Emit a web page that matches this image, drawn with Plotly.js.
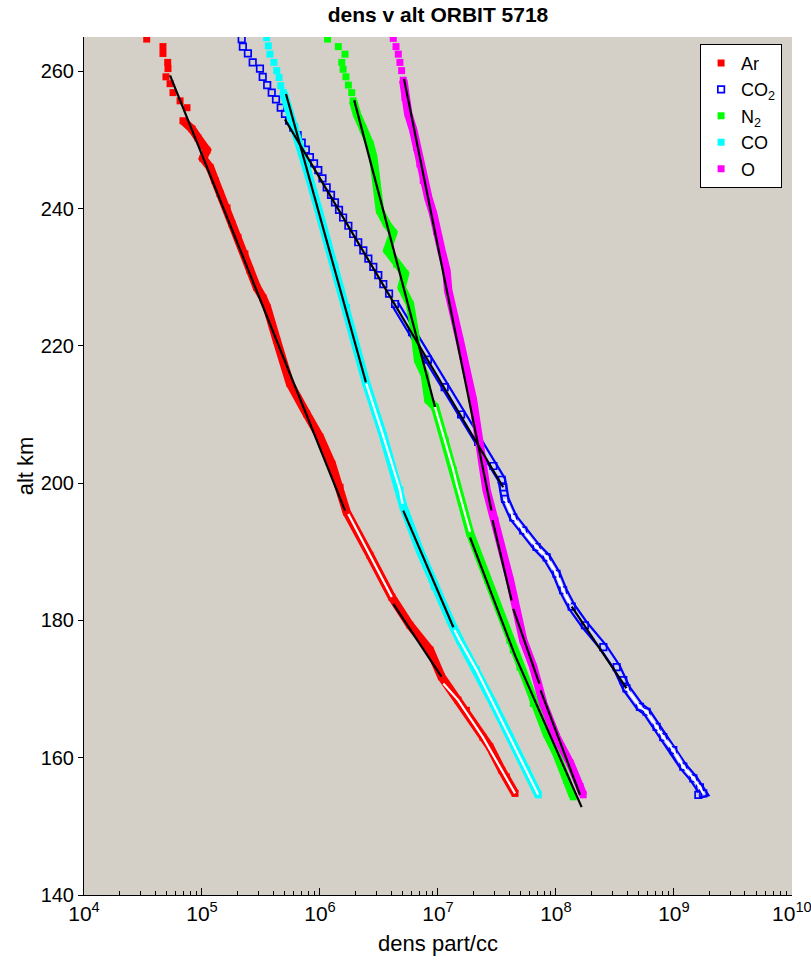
<!DOCTYPE html>
<html>
<head>
<meta charset="utf-8">
<script src="https://cdn.plot.ly/plotly-3.0.1.min.js"></script>
<style>html,body{margin:0;padding:0;background:#fff;}#chart{width:811px;height:964px;}</style>
</head>
<body>
<div id="chart"></div>
<script>
// ---- measured data (altitude km, density part/cc) ----
const arAlt  = [264.7,263.6,262.6,261.3,260.4,259.2,258.2,256.9,255.7,254.7,252.8,251.6,250.3,248.5,247.3,246.0,244.1,242.2,240.1,237.8,235.8,233.4,231.0,228.5,227.0,225.6,220.8,214.5,210.1,206.7,202.8,199.4,195.8,189.5,183.4,179.3,175.7,171.8,168.4,166.9,163.0,161.6,158.2,157.2,154.8];
const arDens = [3.40e4,4.67e4,4.67e4,5.12e4,5.15e4,4.95e4,5.36e4,5.68e4,6.52e4,7.46e4,6.90e4,8.22e4,9.25e4,1.10e5,1.02e5,1.17e5,1.29e5,1.42e5,1.63e5,1.79e5,2.02e5,2.31e5,2.55e5,2.92e5,3.29e5,3.56e5,4.30e5,5.57e5,7.71e5,1.00e6,1.26e6,1.48e6,1.68e6,2.65e6,4.06e6,5.79e6,8.55e6,1.07e7,1.48e7,1.74e7,2.40e7,2.75e7,3.47e7,3.80e7,4.50e7];

const co2Alt  = [264.7,263.6,262.6,261.3,260.4,259.2,258.0,256.9,255.9,254.7,253.8,252.8,251.8,250.7,249.6,248.6,247.5,246.6,245.6,244.4,243.1,242.0,240.9,239.8,238.7,237.5,236.3,235.1,233.9,232.7,231.5,230.3,229.0,227.6,226.1,222.0,218.0,214.0,210.0,206.0,202.5,200.5,199.4,197.7,195.0,193.1,190.7,189.2,186.8,184.4,182.0,179.3,176.1,173.2,171.3,170.1,167.4,166.7,164.5,163.0,161.1,158.7,157.0,155.7,154.8,154.6];
const co2Dens = [2.17e5,2.22e5,2.45e5,2.69e5,3.10e5,3.27e5,3.57e5,3.90e5,4.24e5,4.65e5,5.05e5,5.47e5,5.94e5,6.46e5,7.00e5,7.59e5,8.22e5,8.91e5,9.68e5,1.05e6,1.14e6,1.24e6,1.34e6,1.45e6,1.57e6,1.74e6,1.91e6,2.11e6,2.33e6,2.57e6,2.83e6,3.12e6,3.44e6,3.85e6,4.33e6,6.03e6,8.22e6,1.14e7,1.57e7,2.19e7,2.95e7,3.47e7,3.57e7,3.70e7,4.35e7,5.28e7,6.85e7,8.34e7,1.01e8,1.15e8,1.36e8,1.76e8,2.52e8,3.27e8,3.72e8,3.96e8,5.15e8,5.86e8,7.13e8,8.11e8,9.86e8,1.20e9,1.46e9,1.66e9,1.77e9,1.61e9];

const n2Alt  = [264.7,263.6,262.5,261.3,260.3,259.2,258.0,256.9,255.7,253.8,251.6,249.4,247.5,245.6,243.6,241.6,239.7,237.8,236.5,233.9,231.9,230.5,228.5,226.1,221.8,217.9,215.7,212.1,211.1,206.2,201.9,199.9,192.7,185.9,177.1,175.7,173.2,167.9,163.5,160.6,156.7,154.3];
const n2Dens = [1.16e6,1.43e6,1.63e6,1.53e6,1.57e6,1.66e6,1.74e6,1.86e6,1.91e6,2.05e6,2.33e6,2.65e6,2.83e6,2.92e6,3.02e6,3.12e6,3.22e6,3.67e6,4.18e6,3.72e6,4.46e6,5.25e6,4.92e6,5.79e6,6.38e6,6.78e6,7.76e6,8.28e6,9.44e6,1.15e7,1.35e7,1.44e7,1.87e7,2.63e7,4.07e7,4.35e7,4.95e7,6.43e7,8.34e7,1.01e8,1.23e8,1.40e8];

const coAlt  = [264.9,263.7,262.5,261.3,260.1,259.1,257.9,256.9,254.7,251.8,248.4,245.0,241.6,238.2,234.8,231.5,228.1,225.6,221.5,214.7,207.0,199.0,196.6,190.2,185.0,180.0,177.1,172.8,167.9,163.0,158.2,154.6];
const coDens = [3.53e5,3.65e5,3.77e5,4.07e5,4.30e5,4.50e5,4.65e5,4.89e5,5.38e5,6.14e5,6.98e5,7.96e5,9.08e5,1.03e6,1.17e6,1.34e6,1.50e6,1.68e6,1.91e6,2.45e6,3.42e6,4.76e6,5.08e6,7.00e6,9.29e6,1.27e7,1.53e7,2.12e7,2.94e7,4.07e7,5.64e7,7.08e7];

const oAlt  = [264.8,263.6,262.5,261.3,260.1,258.7,256.2,253.8,251.4,248.9,246.5,244.1,241.6,239.2,236.7,233.9,231.0,228.1,220.8,212.1,199.0,194.6,185.9,177.1,173.2,167.9,163.0,159.2,155.8,154.6];
const oDens = [4.18e6,4.41e6,4.61e6,4.76e6,4.92e6,5.08e6,5.25e6,5.60e6,6.18e6,6.59e6,7.03e6,7.50e6,8.28e6,9.12e6,9.72e6,1.07e7,1.18e7,1.22e7,1.53e7,1.98e7,2.58e7,3.04e7,4.07e7,5.28e7,6.43e7,7.80e7,1.01e8,1.32e8,1.60e8,1.70e8];

// ---- fitted segments (null separates segments) ----
const arFitBlackAlt  = [259.4,196.0,null,182.4,171.8];
const arFitBlackDens = [5.36e4,1.63e6,null,4.18e6,1.07e7];
const arFitWhiteAlt  = [195.5,189.5,183.4,null,170.8,168.4,163.0,158.2,154.8];
const arFitWhiteDens = [1.74e6,2.65e6,4.06e6,null,1.11e7,1.48e7,2.40e7,3.47e7,4.50e7];

const co2FitBlackAlt  = [253.0,199.4,null,182.0,170.1];
const co2FitBlackDens = [5.05e5,3.57e7,null,1.36e8,3.96e8];
const co2FitWhiteAlt  = [197.7,195.0,193.1,190.7,189.2,186.8,184.4,182.4,null,170.1,167.4,166.7,164.5,163.0,161.1,158.7,157.0,155.7,154.8];
const co2FitWhiteDens = [3.70e7,4.35e7,5.28e7,6.85e7,8.34e7,1.01e8,1.15e8,1.32e8,null,3.96e8,5.15e8,5.86e8,7.13e8,8.11e8,9.86e8,1.20e9,1.46e9,1.66e9,1.77e9];

const n2FitBlackAlt  = [255.8,211.1,null,192.1,174.9,152.8];
const n2FitBlackDens = [1.95e6,9.44e6,null,1.87e7,4.50e7,1.65e8];
const n2FitWhiteAlt  = [211.1,206.2,201.9,199.9,192.9];
const n2FitWhiteDens = [9.44e6,1.15e7,1.35e7,1.44e7,1.87e7];

const coFitBlackAlt  = [256.7,214.7,null,196.0,179.0];
const coFitBlackDens = [5.15e5,2.45e6,null,5.08e6,1.35e7];
const coFitWhiteAlt  = [214.5,207.0,199.0,197.0,null,178.6,177.1,172.8,167.9,163.0,158.2,154.6];
const coFitWhiteDens = [2.47e6,3.42e6,4.76e6,5.01e6,null,1.38e7,1.53e7,2.12e7,2.94e7,4.07e7,5.64e7,7.08e7];

const oFitBlackAlt  = [258.9,196.0,null,194.6,182.9,null,181.7,170.8,null,169.8,154.6];
const oFitBlackDens = [5.15e6,2.84e7,null,2.90e7,4.21e7,null,4.35e7,7.23e7,null,7.41e7,1.60e8];

const legendNames = ['Ar','CO<sub>2</sub>','N<sub>2</sub>','CO','O'];
const xTickVals = [1e4,1e5,1e6,1e7,1e8,1e9,1e10];
const xTickText = ['10<sup>4</sup>','10<sup>5</sup>','10<sup>6</sup>','10<sup>7</sup>','10<sup>8</sup>','10<sup>9</sup>','10<sup>10</sup>'];
const yTickVals = [140,160,180,200,220,240,260];

// ---- styling ----
const FONT = 'Liberation Sans, Arial, Helvetica, sans-serif';
const BG = '#d4d0c8';
const series = [
  {name: legendNames[0], alt: arAlt,  dens: arDens,  color: '#ff0000', open: false, bandFrom: 253.0},
  {name: legendNames[1], alt: co2Alt, dens: co2Dens, color: '#0000ff', open: true,  bandFrom: 226.5},
  {name: legendNames[2], alt: n2Alt,  dens: n2Dens,  color: '#00ff00', open: false, bandFrom: 256.0},
  {name: legendNames[3], alt: coAlt,  dens: coDens,  color: '#00ffff', open: false, bandFrom: 257.5},
  {name: legendNames[4], alt: oAlt,   dens: oDens,   color: '#ff00ff', open: false, bandFrom: 259.5}
];

const traces = [];
series.forEach(s => {
  const bx = [], by = [];
  s.alt.forEach((a, i) => { if (a <= s.bandFrom) { bx.push(s.dens[i]); by.push(a); } });
  if (s.open) {
    traces.push({x: bx, y: by, type: 'scatter', mode: 'lines', showlegend: false, hoverinfo: 'skip',
      line: {color: s.color, width: 9}});
    traces.push({x: bx, y: by, type: 'scatter', mode: 'lines', showlegend: false, hoverinfo: 'skip',
      line: {color: '#cfd0ea', width: 4.5}});
  } else {
    traces.push({x: bx, y: by, type: 'scatter', mode: 'lines', showlegend: false, hoverinfo: 'skip',
      line: {color: s.color, width: 8.5}});
  }
  traces.push({x: s.dens, y: s.alt, type: 'scatter', mode: 'markers', name: s.name, hoverinfo: 'skip',
    marker: s.open
      ? {symbol: 'square-open', size: 6.5, color: s.color, line: {color: s.color, width: 1.7}}
      : {symbol: 'square', size: 7, color: s.color, line: {width: 0}}});
});

const fits = [
  [arFitBlackDens, arFitBlackAlt, '#000000'], [arFitWhiteDens, arFitWhiteAlt, '#ffffff'],
  [co2FitBlackDens, co2FitBlackAlt, '#000000'], [co2FitWhiteDens, co2FitWhiteAlt, '#ffffff'],
  [n2FitBlackDens, n2FitBlackAlt, '#000000'], [n2FitWhiteDens, n2FitWhiteAlt, '#ffffff'],
  [coFitBlackDens, coFitBlackAlt, '#000000'], [coFitWhiteDens, coFitWhiteAlt, '#ffffff'],
  [oFitBlackDens, oFitBlackAlt, '#000000']
];
fits.forEach(f => traces.push({x: f[0], y: f[1], type: 'scatter', mode: 'lines', showlegend: false,
  hoverinfo: 'skip', connectgaps: false, line: {color: f[2], width: 2.2}}));

const layout = {
  width: 811, height: 964,
  margin: {l: 84, r: 19, t: 37, b: 69, pad: 0},
  paper_bgcolor: '#ffffff', plot_bgcolor: BG,
  font: {family: FONT, size: 20, color: '#000'},
  title: {text: '<b>dens v alt ORBIT 5718</b>', font: {family: FONT, size: 21, color: '#000'},
    xref: 'paper', x: 0.5, xanchor: 'center', yref: 'container', y: 0.985, yanchor: 'middle'},
  showlegend: true,
  legend: {x: 0.986, xanchor: 'right', y: 0.992, yanchor: 'top', bgcolor: '#ffffff',
    bordercolor: '#000000', borderwidth: 1, font: {family: FONT, size: 18}, tracegroupgap: 0},
  xaxis: {type: 'log', range: [4, 10.0005], tickvals: xTickVals, ticktext: xTickText,
    ticklabeloverflow: 'allow',
    ticks: 'inside', ticklen: 7, tickwidth: 1, tickcolor: '#000',
    minor: {ticks: 'inside', ticklen: 4, tickcolor: '#000', dtick: 'D1', showgrid: false},
    showgrid: false, zeroline: false, showline: true, linecolor: '#000', linewidth: 1,
    tickfont: {family: FONT, size: 21}, automargin: false,
    title: {text: 'dens part/cc', font: {family: FONT, size: 22}, standoff: 11}},
  yaxis: {range: [140, 265], tickvals: yTickVals, ticks: 'outside', ticklen: 5, tickwidth: 1,
    tickcolor: '#000', showgrid: false, zeroline: false, showline: true, linecolor: '#000', linewidth: 1,
    tickfont: {family: FONT, size: 20}, automargin: false,
    title: {text: 'alt km', font: {family: FONT, size: 22}, standoff: 0}},
  hovermode: false
};

Plotly.newPlot('chart', traces, layout, {displayModeBar: false, staticPlot: true});
</script>
</body>
</html>
